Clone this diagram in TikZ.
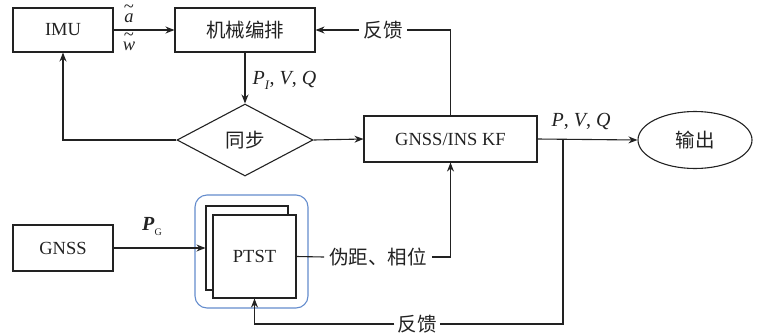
\documentclass[tikz,border=0pt]{standalone}
\usepackage{fontspec}
\setmainfont{Liberation Serif}
\newfontfamily\cjk{Noto Sans CJK SC}
\usetikzlibrary{shapes.geometric,arrows.meta,positioning}
\definecolor{ink}{RGB}{34,34,34}
\definecolor{frameblue}{RGB}{100,140,205}
\newcommand\tld[1]{\ooalign{\textit{#1}\cr\hidewidth\raisebox{0.5em}{\char"7E}\hidewidth\cr}}
\tikzset{
  lat/.style={font=\fontsize{18.5}{22}\selectfont},
  lbl/.style={font=\fontsize{20}{22}\selectfont},
  zh/.style={font=\cjk\fontsize{19.5}{22}\selectfont},
  blk/.style={draw=ink, line width=1.1pt, rectangle, inner sep=0pt, text=ink},
  conn/.style={draw=ink, line width=1.1pt},
  arr/.style={conn, -{Stealth[length=9pt,width=7pt]}},
}
\begin{document}
\begin{tikzpicture}[x=1pt,y=-1pt]
\useasboundingbox (0,0) rectangle (760,333);
% top row
\node[blk,lat,minimum width=100pt,minimum height=44pt] (imu) at (63,30) {IMU};
\node[blk,zh,minimum width=140pt,minimum height=44pt] (mech) at (245,30) {机械编排};
\node[draw=ink,line width=1.1pt,diamond,aspect=1.89,inner sep=0pt,minimum width=136pt,minimum height=72pt,zh,text=ink] (sync) at (245,140) {同步};
\node[blk,lat,minimum width=173pt,minimum height=46pt] (kf) at (450.5,139) {GNSS/INS KF};
\node[draw=ink,line width=1.1pt,ellipse,inner sep=0pt,minimum width=114pt,minimum height=57pt,zh,text=ink] (out) at (695,140) {输出};
% bottom row
\node[blk,lat,minimum width=100pt,minimum height=46pt] (gnss) at (63,248) {GNSS};
\node[draw=frameblue,line width=1.1pt,rounded corners=12pt,minimum width=113pt,minimum height=113pt,inner sep=0pt] (grp) at (251.5,251.5) {};
\node[blk,fill=white,minimum width=82pt,minimum height=84pt] (back) at (247,248) {};
\node[blk,fill=white,lat,minimum width=83pt,minimum height=83pt] (front) at (254.5,256.5) {PTST};
% label nodes
\node[zh,text=ink,inner sep=4pt] (fb1) at (383,30) {反馈};
\node[zh,text=ink,inner sep=5pt] (pr) at (378,257) {伪距、相位};
\node[zh,text=ink,inner sep=3pt] (fb2) at (417,324) {反馈};
\coordinate (br) at (563,139);
% connectors
\draw[arr] (imu.east) -- (mech.west);
\node[lat,text=ink,inner sep=0pt,anchor=base] (la) at (129,22) {\tld{a}};
\node[lat,text=ink,inner sep=0pt,anchor=base] (lw) at (129,50) {\tld{w}};
\draw[arr] (mech.south) -- (sync.north);
\node[lbl,text=ink,anchor=west] (lpvq1) at (249,80) {\textit{P}\raisebox{-5pt}{\fontsize{13}{13}\selectfont\textit{I}}, \textit{V}, \textit{Q}};
\draw[arr] (sync.west) -| (imu.south);
\draw[arr] (sync.east) -- (kf.west);
\draw[conn] (kf.north) |- (fb1.east);
\draw[arr] (fb1.west) -- (mech.east);
\draw[arr] (kf.east) -- (out.west);
\node[lbl,text=ink] (lpvq2) at (581,121) {\textit{P}, \textit{V}, \textit{Q}};
\draw[conn] (br) |- (fb2.east);
\draw[arr] (fb2.west) -| (front.south);
\draw[arr] (gnss.east) -- (back.west);
\node[lbl,text=ink] (lpg) at (152,226) {\textbf{\textit{P}}\raisebox{-5pt}{\fontsize{10}{12}\selectfont G}};
\draw[conn] (front.east) -- (pr.west);
\draw[arr] (pr.east) -| (kf.south);
\end{tikzpicture}
\end{document}
